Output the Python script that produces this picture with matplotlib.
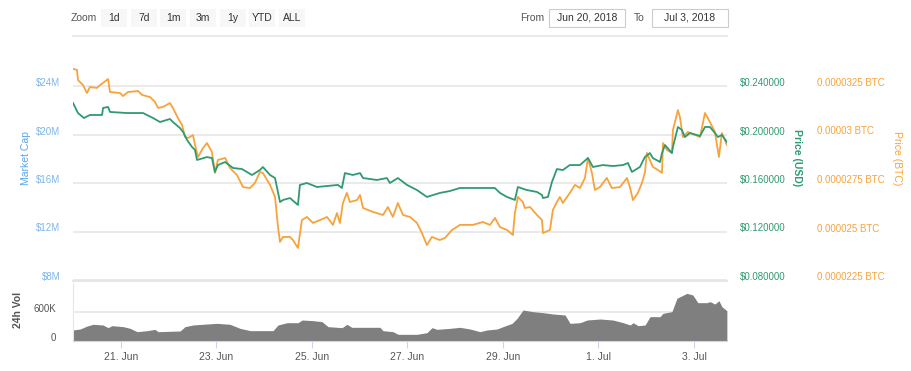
import datetime as dt

import matplotlib
matplotlib.use("Agg")
import matplotlib.pyplot as plt
import matplotlib.dates as mdates
from matplotlib.patches import Rectangle

# ---------------------------------------------------------------------------
# Data, hours since Jun 20, 2018 00:00
# ---------------------------------------------------------------------------

usd_hours = [0.0, 2.5, 5.5, 8.5, 14.6, 15.1, 17.6, 18.6, 27.1, 35.2, 40.2, 43.7,
             48.7, 50.2, 53.7, 55.3, 57.3, 59.8, 61.3, 62.3, 67.3, 69.8, 71.3,
             72.8, 76.4, 80.4, 84.9, 89.9, 93.9, 95.4, 99.0, 101.5, 104.0,
             105.5, 109.0, 113.0, 114.0, 117.5, 122.6, 127.6, 133.1, 135.1,
             136.6, 140.6, 144.2, 145.7, 152.7, 157.7, 159.2, 163.2, 167.8,
             172.8, 177.8, 184.3, 189.4, 194.4, 200.9, 207.9, 211.9, 214.5,
             218.0, 222.0, 223.5, 228.0, 233.1, 235.6, 236.1, 238.6, 240.6,
             243.1, 246.1, 249.6, 254.7, 258.7, 261.2, 266.2, 271.2, 276.3,
             278.8, 280.8, 284.8, 287.3, 289.8, 291.3, 294.9, 295.9, 297.4,
             300.9, 301.4, 303.9, 305.9, 307.4, 309.9, 315.0, 317.5, 320.0,
             322.5, 324.0, 326.0, 328.5]
usd_price = [0.2260, 0.2177, 0.2136, 0.2161, 0.2161, 0.2219, 0.2227, 0.2186,
             0.2177, 0.2177, 0.2136, 0.2103, 0.2128, 0.2103, 0.2054, 0.2021,
             0.1955, 0.1897, 0.1872, 0.1790, 0.1814, 0.1806, 0.1691, 0.1748,
             0.1773, 0.1724, 0.1715, 0.1666, 0.1707, 0.1732, 0.1666, 0.1641,
             0.1443, 0.1460, 0.1476, 0.1419, 0.1584, 0.1600, 0.1567, 0.1575,
             0.1584, 0.1559, 0.1682, 0.1666, 0.1682, 0.1641, 0.1625, 0.1641,
             0.1600, 0.1641, 0.1584, 0.1542, 0.1485, 0.1518, 0.1534, 0.1559,
             0.1559, 0.1559, 0.1559, 0.1518, 0.1485, 0.1460, 0.1567, 0.1542,
             0.1526, 0.1501, 0.1476, 0.1485, 0.1608, 0.1715, 0.1707, 0.1748,
             0.1748, 0.1806, 0.1732, 0.1748, 0.1740, 0.1748, 0.1765, 0.1691,
             0.1732, 0.1814, 0.1847, 0.1806, 0.1773, 0.1847, 0.1913, 0.1847,
             0.1897, 0.2062, 0.2037, 0.1979, 0.2012, 0.1988, 0.2062, 0.2062,
             0.2012, 0.1979, 0.1996, 0.1938]

btc_hours = [0.0, 2.0, 2.5, 5.0, 7.0, 8.5, 12.1, 13.6, 15.1, 17.6, 18.6, 23.6,
             25.1, 27.6, 32.7, 34.7, 38.7, 41.2, 42.7, 45.2, 48.7, 50.2, 52.7,
             54.8, 56.3, 57.8, 60.3, 61.3, 62.8, 65.3, 67.3, 69.8, 71.3, 72.8,
             76.4, 78.9, 82.4, 85.4, 88.9, 91.4, 93.9, 95.4, 99.0, 101.5,
             103.0, 104.0, 105.5, 109.0, 110.5, 113.0, 115.0, 117.5, 120.6,
             124.1, 127.6, 130.6, 132.6, 134.1, 135.6, 137.6, 139.1, 142.7,
             144.2, 145.7, 150.7, 155.7, 158.2, 160.7, 163.2, 165.8, 169.3,
             172.8, 175.3, 177.8, 180.3, 184.3, 186.9, 190.4, 194.4, 200.9,
             205.9, 209.5, 212.0, 214.5, 218.0, 221.0, 222.0, 223.5, 226.0,
             227.0, 229.6, 233.1, 235.6, 236.1, 239.6, 241.1, 243.1, 244.6,
             246.1, 249.6, 252.2, 254.7, 257.2, 258.7, 260.7, 262.2, 264.7,
             268.2, 270.7, 274.8, 278.3, 279.8, 281.3, 283.8, 285.8, 287.3,
             288.3, 289.8, 291.3, 293.9, 295.9, 296.4, 298.4, 300.9, 301.4,
             303.9, 304.9, 306.4, 308.9, 315.0, 317.5, 320.0, 322.5, 324.5,
             326.0, 328.5]
# in units of 1e-5 BTC
btc_price = [3.338, 3.333, 3.281, 3.255, 3.214, 3.245, 3.240, 3.255, 3.266,
             3.286, 3.219, 3.214, 3.198, 3.219, 3.224, 3.204, 3.193, 3.168,
             3.137, 3.142, 3.162, 3.137, 3.085, 3.049, 2.987, 2.982, 2.997,
             2.946, 2.884, 2.930, 2.956, 2.910, 2.802, 2.869, 2.879, 2.827,
             2.791, 2.729, 2.724, 2.750, 2.807, 2.802, 2.740, 2.678, 2.523,
             2.446, 2.472, 2.472, 2.456, 2.415, 2.559, 2.575, 2.544, 2.559,
             2.575, 2.534, 2.595, 2.544, 2.647, 2.699, 2.652, 2.662, 2.688,
             2.621, 2.601, 2.585, 2.626, 2.575, 2.647, 2.585, 2.575, 2.544,
             2.492, 2.430, 2.472, 2.456, 2.467, 2.508, 2.534, 2.534, 2.549,
             2.534, 2.570, 2.523, 2.508, 2.482, 2.595, 2.678, 2.652, 2.621,
             2.626, 2.585, 2.559, 2.492, 2.508, 2.611, 2.652, 2.678, 2.647,
             2.699, 2.740, 2.724, 2.776, 2.879, 2.802, 2.714, 2.729, 2.776,
             2.724, 2.729, 2.776, 2.729, 2.662, 2.699, 2.750, 2.802, 2.905,
             2.869, 2.833, 2.817, 2.802, 2.956, 2.920, 2.905, 3.023, 3.126,
             3.090, 2.987, 3.013, 2.987, 3.111, 3.064, 3.013, 2.884, 3.008,
             2.946]

vol_hours = [0.0, 3.6, 7.1, 10.1, 15.1, 17.6, 19.6, 25.2, 28.7, 32.2, 37.3,
             41.2, 42.7, 53.8, 56.3, 60.3, 67.4, 72.4, 78.9, 83.9, 89.0,
             100.5, 103.0, 107.6, 113.1, 115.1, 120.6, 125.1, 128.1, 135.2,
             137.6, 140.1, 154.2, 155.7, 160.8, 163.3, 172.8, 177.8, 180.4,
             182.9, 189.4, 194.4, 199.5, 204.5, 208.0, 213.0, 216.1, 220.6,
             223.1, 226.1, 231.1, 236.2, 241.2, 247.2, 249.7, 254.8, 258.3,
             264.8, 271.3, 276.4, 279.9, 281.4, 283.9, 287.4, 289.9, 294.9,
             296.4, 300.9, 303.4, 308.4, 311.4, 313.9, 318.5, 320.0, 322.5,
             324.5, 326.0, 328.5]
# thousands
vol_values = [228, 248, 310, 345, 331, 276, 317, 297, 262, 193, 214, 241, 193,
              207, 297, 331, 352, 365, 345, 262, 214, 214, 331, 379, 379, 434,
              421, 400, 297, 276, 345, 283, 283, 214, 193, 138, 138, 172, 276,
              241, 262, 283, 248, 193, 228, 248, 297, 365, 469, 641, 607, 586,
              559, 538, 365, 379, 434, 455, 434, 379, 331, 379, 317, 331, 503,
              503, 572, 607, 883, 986, 952, 793, 793, 814, 765, 834, 710, 627]

cap_ticks = [8, 12, 16, 20, 24]
usd_ticks = [0.08, 0.12, 0.16, 0.20, 0.24]
btc_ticks = [2.25, 2.5, 2.75, 3.0, 3.25]
btc_labels = ["0.0000225 BTC", "0.000025 BTC", "0.0000275 BTC",
              "0.00003 BTC", "0.0000325 BTC"]
zoom_buttons = ["1d", "7d", "1m", "3m", "1y", "YTD", "ALL"]

# ---------------------------------------------------------------------------
# Layout helpers
# ---------------------------------------------------------------------------

W, H = 912, 371
START = dt.datetime(2018, 6, 20)
END = START + dt.timedelta(days=13.69)

GREEN = "#2f9a70"
ORANGE = "#f7a33c"
BLUE = "#7cb5ec"
GRID = "#e6e6e6"
TXT = "#555555"
FS = 7


def fx(px):
    return px / W


def fy(py):
    return 1 - py / H


def to_dates(hours):
    return [START + dt.timedelta(hours=h) for h in hours]


plt.rcParams["font.family"] = ["Liberation Sans", "DejaVu Sans"]
fig = plt.figure(figsize=(W / 100, H / 100), dpi=100)

# main pane: px x 73..727, y 60..280
ax = fig.add_axes([fx(73), fy(280), fx(727) - fx(73), fy(60) - fy(280)])
ax_usd = ax.twinx()
ax_btc = ax.twinx()

ax.set_ylim(8, 8 + 220 / 48.5 * 4)
ax_usd.set_ylim(0.08, 0.08 + 220 / 48.5 * 0.04)
ax_btc.set_ylim(2.25, 2.25 + 220 / 48.5 * 0.25)

for a in (ax, ax_usd, ax_btc):
    a.set_xlim(START, END)
    for s in a.spines.values():
        s.set_visible(False)
    a.tick_params(length=0)
    a.set_xticks([])

ax.set_yticks(cap_ticks)
ax.set_yticklabels([f"${v}M" for v in cap_ticks], va="baseline",
                   color=BLUE, fontsize=FS)
ax.tick_params(axis="y", pad=9)
ax.grid(axis="y", color=GRID, linewidth=1.2)
ax.set_axisbelow(True)

ax_usd.set_yticks(usd_ticks)
ax_usd.set_yticklabels([f"${v:.6f}" for v in usd_ticks], va="baseline",
                       color=GREEN, fontsize=FS)
ax_usd.tick_params(axis="y", pad=9)

ax_btc.set_yticks(btc_ticks)
ax_btc.set_yticklabels(btc_labels, va="baseline", color=ORANGE, fontsize=FS)
ax_btc.tick_params(axis="y", pad=65)

ax_btc.plot(to_dates(btc_hours), btc_price, color=ORANGE, linewidth=1.3,
            zorder=2)
ax_usd.plot(to_dates(usd_hours), usd_price, color=GREEN, linewidth=1.3,
            zorder=3)
ax_usd.set_zorder(ax_btc.get_zorder() + 1)

fig.text(fx(26), fy(158), "Market Cap", rotation=90, ha="center", va="center",
         color="#5aa5e8", fontsize=7.5)
fig.text(fx(797), fy(158), "Price (USD)", rotation=270, ha="center",
         va="center", color=GREEN, fontsize=7.5, fontweight="bold")
fig.text(fx(897), fy(158), "Price (BTC)", rotation=270, ha="center",
         va="center", color=ORANGE, fontsize=7.5)

# volume pane: px y 283..341
axv = fig.add_axes([fx(73), fy(341), fx(727) - fx(73), fy(283) - fy(341)])
axv.fill_between(to_dates(vol_hours), vol_values, 0, color="#7f7f7f",
                 linewidth=0)
axv.set_xlim(START, END)
axv.set_ylim(0, 1200)
for name, s in axv.spines.items():
    s.set_visible(name in ("bottom", "left"))
axv.spines["bottom"].set_color("#ccd6eb")
axv.spines["left"].set_color("#e6e6e6")
axv.set_yticks([0, 600])
axv.set_yticklabels(["0", "600K"], va="baseline", color=TXT, fontsize=FS)
axv.tick_params(axis="y", length=0, pad=12)
axv.grid(axis="y", color=GRID, linewidth=1.2)
axv.set_axisbelow(True)
axv.xaxis.set_major_locator(mdates.DayLocator(bymonthday=[21, 23, 25, 27,
                                                          29, 1, 3]))
axv.xaxis.set_major_formatter(
    plt.FuncFormatter(lambda v, p: (lambda d: f"{d.day}. {d:%b}")(
        mdates.num2date(v))))
axv.tick_params(axis="x", length=5, color="#ccd6eb", labelcolor=TXT,
                labelsize=FS + 0.5, pad=3)
fig.text(fx(18), fy(310), "24h Vol", rotation=90, ha="center", va="center",
         color=TXT, fontsize=7.5, fontweight="bold")

# separator line between panes
fig.add_artist(plt.Line2D([fx(73), fx(727)], [fy(281), fy(281)],
                          color="#e6e6e6", linewidth=1.5))

# ---------------------------------------------------------------------------
# Toolbar (zoom buttons and date range)
# ---------------------------------------------------------------------------

fig.text(fx(71), fy(18), "Zoom", ha="left", va="center", color=TXT,
         fontsize=FS + 0.5)
for i, lab in enumerate(zoom_buttons):
    x0 = 101 + i * 29.7
    fig.add_artist(Rectangle((fx(x0), fy(27)), fx(26), fy(9) - fy(27),
                             transform=fig.transFigure, facecolor="#f7f7f7",
                             edgecolor="none"))
    fig.text(fx(x0 + 13), fy(18), lab, ha="center", va="center",
             color="#333333", fontsize=FS + 0.5)

fig.text(fx(520), fy(18), "From", ha="left", va="center", color=TXT,
         fontsize=FS + 0.5)
fig.text(fx(634), fy(18), "To", ha="left", va="center", color=TXT,
         fontsize=FS + 0.5)
for x0, x1, lab in [(549, 625, "Jun 20, 2018"), (652, 728, "Jul 3, 2018")]:
    fig.add_artist(Rectangle((fx(x0), fy(27)), fx(x1 - x0), fy(9) - fy(27),
                             transform=fig.transFigure, facecolor="white",
                             edgecolor="#cccccc", linewidth=0.8))
    fig.text(fx((x0 + x1) / 2), fy(18), lab, ha="center", va="center",
             color="#333333", fontsize=FS + 0.5)

fig.add_artist(plt.Line2D([fx(73), fx(727)], [fy(36), fy(36)],
                          color="#e6e6e6", linewidth=1.2))

fig.savefig("out.png", dpi=100)
